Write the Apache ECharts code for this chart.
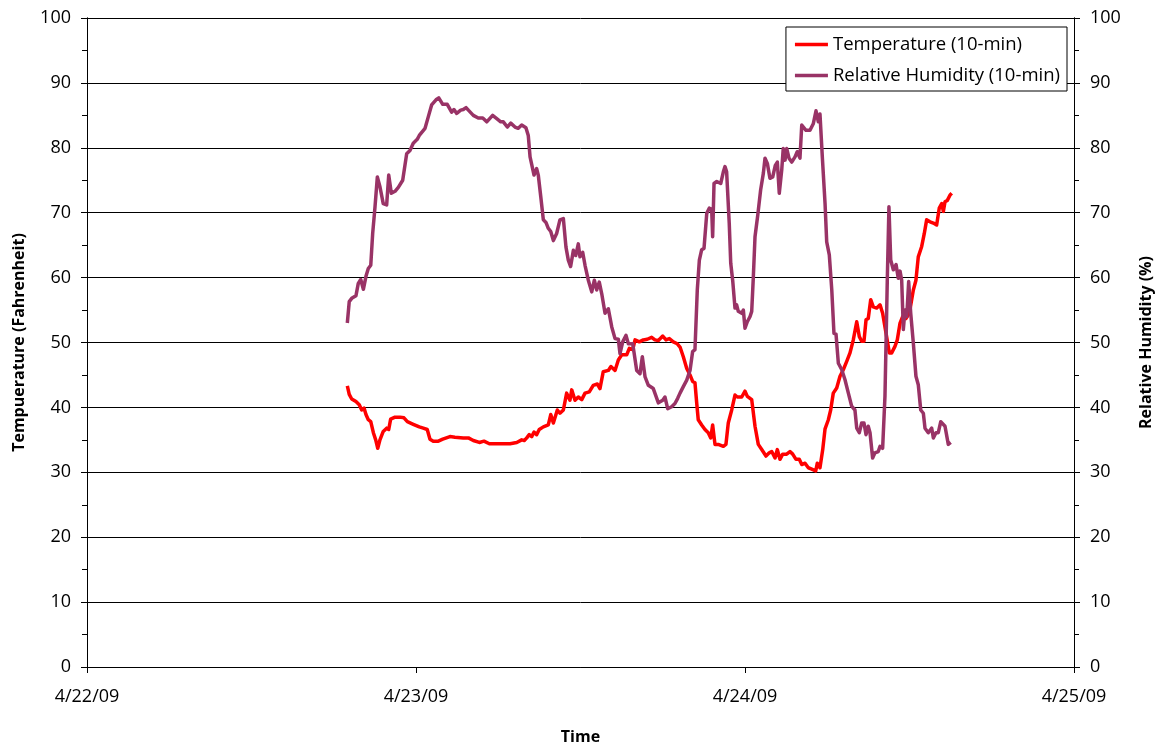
<!DOCTYPE html>
<html>
<head>
<meta charset="utf-8">
<script src="https://cdn.jsdelivr.net/npm/echarts@6/dist/echarts.min.js"></script>
<style>
  html, body { margin: 0; padding: 0; background: #fff; }
  #chart { width: 1164px; height: 744px; }
</style>
</head>
<body>
<div id="chart"></div>
<script>
// x axis: hours since 4/22/09 00:00
const dayLabels = ['4/22/09', '4/23/09', '4/24/09', '4/25/09'];

// Temperature (10-min)
const tempHours = [
  18.99, 19.13, 19.31, 19.62, 19.86, 20.04, 20.21, 20.35, 20.52, 20.70,
  20.89, 21.06, 21.21, 21.37, 21.61, 21.86, 22.01, 22.15, 22.47, 22.83,
  23.12, 23.37, 23.80, 24.24, 24.53, 24.82, 25.02, 25.26, 25.63, 25.95,
  26.48, 26.84, 27.45, 27.82, 28.18, 28.62, 28.96, 29.35, 29.89, 30.37,
  30.86, 31.35, 31.71, 31.90, 32.08, 32.26, 32.44, 32.61, 32.80, 32.99,
  33.29, 33.65, 33.83, 34.02, 34.31, 34.50, 34.75, 34.99, 35.23, 35.36,
  35.60, 35.84, 36.09, 36.33, 36.64, 36.93, 37.23, 37.42, 37.66, 38.03,
  38.22, 38.52, 38.76, 39.01, 39.37, 39.56, 39.81, 39.98, 40.29, 40.58,
  40.87, 41.19, 41.43, 41.68, 42.00, 42.24, 42.48, 42.77, 43.06, 43.26,
  43.50, 43.75, 43.99, 44.18, 44.35, 44.48, 44.59, 44.84, 45.08, 45.32,
  45.50, 45.64, 45.81, 46.05, 46.42, 46.61, 46.78, 47.03, 47.27, 47.44,
  47.76, 48.00, 48.17, 48.49, 48.73, 48.97, 49.22, 49.53, 49.77, 49.95,
  50.19, 50.36, 50.55, 50.75, 51.04, 51.28, 51.48, 51.72, 51.96, 52.14,
  52.38, 52.62, 52.87, 53.16, 53.27, 53.47, 53.67, 53.84, 54.08, 54.25,
  54.44, 54.69, 54.93, 55.17, 55.42, 55.66, 55.90, 56.15, 56.34, 56.51,
  56.68, 56.83, 56.99, 57.17, 57.36, 57.61, 57.85, 58.04, 58.29, 58.53,
  58.70, 58.94, 59.11, 59.31, 59.50, 59.74, 59.99, 60.28, 60.47, 60.64,
  60.89, 61.08, 61.25, 61.50, 61.74, 61.98, 62.17, 62.35, 62.47, 62.59,
  62.76, 62.95, 63.08
];
const tempValues = [
  43.3, 42.0, 41.3, 40.9, 40.4, 39.6, 39.9, 38.9, 38.1, 37.8,
  36.1, 35.0, 33.7, 35.0, 36.3, 36.8, 36.6, 38.2, 38.5, 38.5,
  38.4, 37.8, 37.4, 37.0, 36.8, 36.6, 35.1, 34.8, 34.8, 35.1,
  35.5, 35.4, 35.3, 35.3, 34.9, 34.6, 34.8, 34.4, 34.4, 34.4,
  34.4, 34.6, 35.0, 34.9, 35.3, 35.8, 35.5, 36.2, 35.8, 36.6,
  37.0, 37.3, 38.9, 37.6, 39.6, 39.1, 39.6, 42.2, 41.1, 42.7,
  41.1, 41.6, 41.2, 42.2, 42.4, 43.4, 43.6, 42.9, 45.5, 45.7,
  46.3, 45.7, 47.3, 48.1, 48.1, 49.1, 48.9, 50.4, 50.1, 50.4,
  50.5, 50.8, 50.4, 50.3, 51.0, 50.4, 50.6, 50.1, 49.8, 49.3,
  47.8, 46.0, 45.0, 44.0, 43.8, 40.6, 38.1, 37.3, 36.6, 36.1,
  35.3, 37.3, 34.3, 34.3, 34.0, 34.3, 37.6, 39.6, 41.9, 41.6,
  41.6, 42.5, 41.7, 41.2, 37.1, 34.3, 33.5, 32.5, 33.0, 33.2,
  32.2, 33.5, 32.0, 32.8, 32.8, 33.2, 32.8, 32.0, 32.0, 31.2,
  31.4, 30.7, 30.5, 30.2, 31.4, 30.7, 33.5, 36.7, 38.1, 39.6,
  42.2, 43.0, 44.8, 45.8, 47.1, 48.4, 50.4, 53.2, 50.9, 50.2,
  50.2, 53.5, 53.7, 56.6, 55.5, 55.3, 55.8, 54.5, 51.4, 48.4,
  48.4, 49.4, 50.4, 53.0, 54.0, 53.7, 54.5, 58.1, 59.6, 63.2,
  64.8, 66.8, 68.9, 68.6, 68.4, 68.1, 70.7, 71.4, 70.2, 71.7,
  71.9, 72.7, 73.0
];

// Relative Humidity (10-min)
const rhHours = [
  18.99, 19.13, 19.31, 19.62, 19.79, 19.97, 20.16, 20.35, 20.52, 20.70,
  20.84, 21.01, 21.18, 21.37, 21.61, 21.86, 22.01, 22.20, 22.47, 22.71,
  23.03, 23.32, 23.56, 23.80, 24.09, 24.24, 24.66, 24.90, 25.14, 25.46,
  25.66, 25.95, 26.28, 26.60, 26.77, 26.97, 27.26, 27.45, 27.65, 27.82,
  28.18, 28.54, 28.87, 29.16, 29.59, 29.89, 30.18, 30.37, 30.66, 30.91,
  31.22, 31.46, 31.71, 32.02, 32.19, 32.32, 32.44, 32.61, 32.80, 32.92,
  33.10, 33.29, 33.48, 33.65, 33.83, 34.02, 34.26, 34.50, 34.75, 34.94,
  35.11, 35.28, 35.48, 35.65, 35.84, 35.96, 36.16, 36.33, 36.57, 36.82,
  37.01, 37.18, 37.37, 37.55, 37.79, 38.03, 38.28, 38.52, 38.76, 38.88,
  39.08, 39.32, 39.49, 39.61, 39.81, 40.10, 40.34, 40.51, 40.71, 40.95,
  41.31, 41.68, 42.00, 42.16, 42.36, 42.65, 42.89, 43.09, 43.26, 43.50,
  43.75, 43.99, 44.18, 44.35, 44.52, 44.67, 44.84, 45.01, 45.21, 45.40,
  45.57, 45.64, 45.74, 45.94, 46.23, 46.42, 46.54, 46.66, 46.85, 46.96,
  47.10, 47.27, 47.39, 47.51, 47.63, 47.76, 47.88, 48.00, 48.17, 48.37,
  48.49, 48.61, 48.73, 48.93, 49.14, 49.34, 49.46, 49.63, 49.82, 50.02,
  50.21, 50.36, 50.50, 50.68, 50.79, 50.92, 51.04, 51.21, 51.41, 51.65,
  51.81, 52.01, 52.14, 52.45, 52.74, 52.98, 53.18, 53.35, 53.47, 53.64,
  53.84, 53.96, 54.15, 54.33, 54.49, 54.64, 54.81, 55.06, 55.29, 55.54,
  55.78, 56.02, 56.15, 56.34, 56.51, 56.68, 56.83, 56.99, 57.12, 57.31,
  57.48, 57.72, 57.85, 58.04, 58.21, 58.38, 58.50, 58.63, 58.82, 59.02,
  59.18, 59.31, 59.43, 59.55, 59.67, 59.80, 59.94, 60.09, 60.28, 60.47,
  60.64, 60.82, 61.01, 61.13, 61.37, 61.62, 61.74, 61.93, 62.10, 62.28,
  62.42, 62.59, 62.71, 62.83, 63.01
];
const rhValues = [
  53.0, 56.3, 56.8, 57.2, 59.1, 59.7, 58.2, 60.2, 61.4, 61.9,
  66.8, 70.9, 75.5, 74.0, 71.4, 71.2, 75.8, 73.0, 73.3, 73.9,
  75.0, 79.1, 79.6, 80.7, 81.3, 81.9, 83.0, 84.8, 86.6, 87.4,
  87.7, 86.7, 86.7, 85.5, 85.9, 85.3, 85.8, 85.9, 86.2, 85.8,
  85.0, 84.6, 84.6, 84.0, 85.0, 84.5, 84.0, 84.0, 83.2, 83.8,
  83.2, 83.0, 83.5, 83.1, 81.9, 78.6, 78.4, 75.8, 76.8, 75.8,
  72.5, 68.9, 68.5, 67.6, 67.1, 65.7, 66.8, 68.9, 69.1, 64.7,
  62.7, 61.7, 64.2, 63.4, 65.2, 63.2, 63.9, 61.9, 59.6, 57.8,
  59.6, 58.1, 59.3, 57.5, 54.5, 55.2, 52.4, 50.6, 50.5, 48.3,
  50.1, 51.1, 49.8, 49.6, 49.8, 45.7, 45.2, 47.8, 44.7, 43.4,
  42.9, 40.7, 41.1, 41.6, 39.8, 40.1, 40.6, 41.4, 42.2, 43.2,
  44.2, 45.7, 48.6, 48.9, 58.1, 62.7, 64.3, 64.5, 69.9, 70.7,
  70.5, 66.3, 74.5, 74.8, 74.5, 76.3, 77.1, 76.3, 68.4, 62.2,
  59.6, 55.3, 55.8, 54.8, 54.8, 54.5, 55.0, 52.2, 53.2, 54.0,
  54.8, 60.2, 66.3, 69.6, 73.5, 76.1, 78.4, 77.6, 75.3, 75.5,
  77.3, 77.8, 73.0, 76.6, 79.9, 78.1, 79.9, 78.4, 77.8, 78.6,
  79.4, 78.4, 83.5, 82.7, 82.7, 83.7, 85.7, 84.0, 85.2, 78.6,
  71.4, 65.5, 63.5, 58.1, 51.4, 51.3, 46.8, 45.8, 44.3, 42.2,
  40.2, 39.6, 36.8, 36.1, 37.6, 37.6, 35.8, 37.1, 36.1, 32.2,
  33.0, 33.2, 34.0, 33.7, 41.7, 59.6, 70.9, 62.7, 61.2, 62.0,
  59.9, 61.0, 59.6, 52.0, 55.0, 54.0, 59.4, 54.5, 49.9, 44.8,
  43.5, 39.6, 39.1, 36.8, 36.1, 36.8, 35.3, 36.1, 36.1, 37.8,
  38.1, 37.1, 37.1, 34.3, 34.6
];

const FONT = '"Open Sans", "DejaVu Sans", sans-serif';

function zip(xs, ys) {
  return xs.map((x, i) => [x, ys[i]]);
}

// y axes: the visible ones carry labels and outside ticks,
// the twin ones only draw the inner half of the crossing minor ticks
function makeYAxis(position, name, visible) {
  return {
    type: 'value',
    position: position,
    min: 0,
    max: 100,
    interval: 10,
    name: visible ? name : '',
    nameLocation: 'middle',
    nameRotate: 90,
    nameGap: position === 'left' ? 60 : 64,
    nameTextStyle: { fontFamily: FONT, fontSize: 16, fontWeight: 'bold', color: '#000' },
    axisLine: { show: true, lineStyle: { color: '#000', width: 1 } },
    axisTick: { show: visible, length: 6, lineStyle: { color: '#000' } },
    minorTick: { show: true, splitNumber: 2, length: 5, lineStyle: { color: '#000' } },
    axisLabel: {
      show: visible,
      margin: 16,
      fontFamily: FONT,
      fontSize: 18,
      color: '#000'
    },
    splitLine: { show: false },
    minorSplitLine: { show: false }
  };
}

const leftAxis = makeYAxis('left', 'Tempuerature (Fahrenheit)', true);
leftAxis.splitLine = { show: true, lineStyle: { color: '#000', width: 1 } };
const rightAxis = makeYAxis('right', 'Relative Humidity (%)', true);
const leftInner = makeYAxis('left', '', false);
leftInner.minorTick.inside = true;
const rightInner = makeYAxis('right', '', false);
rightInner.minorTick.inside = true;

const chart = echarts.init(document.getElementById('chart'), null, { renderer: 'canvas' });

const option = {
  backgroundColor: '#fff',
  animation: false,
  grid: { left: 87, right: 90, top: 18, bottom: 77, outerBoundsMode: 'none', containLabel: false },
  legend: {
    orient: 'vertical',
    right: 97,
    top: 27,
    padding: [8, 7, 6, 9],
    itemGap: 12,
    itemWidth: 33,
    itemHeight: 12,
    backgroundColor: '#fff',
    borderColor: '#000',
    borderWidth: 1,
    borderRadius: 0,
    textStyle: { fontFamily: FONT, fontSize: 18.5, color: '#000' },
    data: [
      { name: 'Temperature (10-min)', icon: 'path://M0,0 L10,0 L10,1 L0,1 Z' },
      { name: 'Relative Humidity (10-min)', icon: 'path://M0,0 L10,0 L10,1 L0,1 Z' }
    ]
  },
  xAxis: {
    type: 'value',
    min: 0,
    max: 72,
    interval: 24,
    name: 'Time',
    nameLocation: 'middle',
    nameGap: 62,
    nameTextStyle: { fontFamily: FONT, fontSize: 16, fontWeight: 'bold', color: '#000' },
    axisLine: { show: true, onZero: false, lineStyle: { color: '#000', width: 1 } },
    axisTick: { show: true, length: 6, lineStyle: { color: '#000' } },
    axisLabel: {
      margin: 21,
      fontFamily: FONT,
      fontSize: 18,
      color: '#000',
      showMinLabel: true,
      showMaxLabel: true,
      formatter: v => dayLabels[Math.round(v / 24)] || ''
    },
    splitLine: { show: false }
  },
  yAxis: [leftAxis, rightAxis, leftInner, rightInner],
  series: [
    {
      name: 'Temperature (10-min)',
      type: 'line',
      yAxisIndex: 0,
      data: zip(tempHours, tempValues),
      showSymbol: false,
      symbol: 'none',
      color: '#FF0000',
      lineStyle: { color: '#FF0000', width: 3.5, join: 'round' },
      z: 3
    },
    {
      name: 'Relative Humidity (10-min)',
      type: 'line',
      yAxisIndex: 1,
      data: zip(rhHours, rhValues),
      showSymbol: false,
      symbol: 'none',
      color: '#993366',
      lineStyle: { color: '#993366', width: 3.5, join: 'round' },
      z: 4
    }
  ]
};

chart.setOption(option);
</script>
</body>
</html>
